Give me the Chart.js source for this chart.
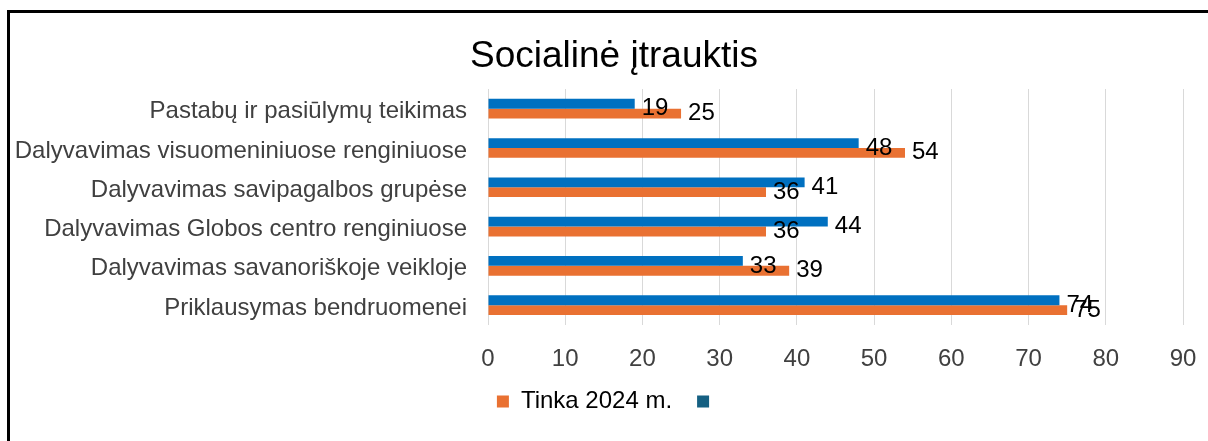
<!DOCTYPE html>
<html>
<head>
<meta charset="utf-8">
<script src="https://cdn.jsdelivr.net/npm/chart.js@4/dist/chart.umd.min.js"></script>
<style>
    body { margin: 0; background: #fff; }
    #wrap { position: relative; width: 1208px; height: 441px; overflow: hidden; }
    #frame { position: absolute; left: 7px; top: 10px; width: 1300px; height: 500px; border-left: 3px solid #000; border-top: 3px solid #000; }
    #c { position: absolute; left: 0; top: 0; }
</style>
</head>
<body>
<div id="wrap">
    <canvas id="c" width="1208" height="441"></canvas>
    <div id="frame"></div>
</div>
<script>

let categories = [
    "Pastabų ir pasiūlymų teikimas",
    "Dalyvavimas visuomeniniuose renginiuose",
    "Dalyvavimas savipagalbos grupėse",
    "Dalyvavimas Globos centro renginiuose",
    "Dalyvavimas savanoriškoje veikloje",
    "Priklausymas bendruomenei"
]
let blueValues = [19, 48, 41, 44, 33, 74]
let orangeValues = [25, 54, 36, 36, 39, 75]
let seriesNames = ["", "Tinka 2024 m."]
let xTicks = [0, 10, 20, 30, 40, 50, 60, 70, 80, 90]

let fontName = "'Liberation Sans', Arial, sans-serif"

// value labels next to the bar ends
let valueLabels = {
    id: 'valueLabels',
    afterDatasetsDraw: function (chart) {
        let ctx = chart.ctx
        ctx.save()
        ctx.font = "24px " + fontName
        ctx.fillStyle = "#000"
        ctx.textAlign = "left"
        ctx.textBaseline = "middle"
        chart.data.datasets.forEach(function (ds, i) {
            let meta = chart.getDatasetMeta(i)
            let shift = i == 0 ? 5 : 0
            meta.data.forEach(function (bar, j) {
                ctx.fillText(ds.data[j], bar.x + 7, bar.y + shift)
            })
        })
        ctx.restore()
    }
}

// nudge title and legend a bit, like in the original sheet
let nudge = {
    id: 'nudge',
    afterLayout: function (chart) {
        chart.titleBlock.left += 17.5
        chart.titleBlock.right += 17.5
        chart.legend.left += 12.5
        chart.legend.right += 12.5
        chart.legend.top -= 10.4
        chart.legend.bottom -= 10.4
    }
}

let chart = new Chart(document.getElementById('c').getContext('2d'), {
    type: 'bar',
    data: {
        labels: categories,
        datasets: [{
            label: seriesNames[0],
            data: blueValues,
            backgroundColor: '#0070C0',
            barPercentage: 1,
            categoryPercentage: 0.5
        }, {
            label: seriesNames[1],
            data: orangeValues,
            backgroundColor: '#E97132',
            barPercentage: 1,
            categoryPercentage: 0.5
        }]
    },
    options: {
        indexAxis: 'y',
        responsive: false,
        animation: false,
        layout: { padding: { top: 10, right: 25, bottom: 7.2, left: 10 } },
        scales: {
            x: {
                min: 0,
                max: 90,
                afterBuildTicks: function (axis) {
                    axis.ticks = xTicks.map(function (v) { return { value: v } })
                },
                grid: { color: '#D9D9D9', lineWidth: 1, drawTicks: true, tickLength: 12, tickColor: 'rgba(0,0,0,0)' },
                border: { display: false },
                ticks: { color: '#404040', font: { family: fontName, size: 24 }, padding: 8 },
                afterFit: function (axis) { axis.height = 50 }
            },
            y: {
                grid: { display: false, drawTicks: false },
                border: { display: false },
                ticks: { color: '#404040', font: { family: fontName, size: 24 }, padding: 21, labelOffset: 3 },
                afterFit: function (axis) { axis.width = 478 }
            }
        },
        plugins: {
            title: {
                display: true,
                text: 'Socialinė įtrauktis',
                color: '#000',
                font: { family: fontName, size: 37, weight: 'normal' },
                padding: { top: 24.8, bottom: 9.8 }
            },
            legend: {
                position: 'bottom',
                reverse: true,
                labels: {
                    color: '#000',
                    font: { family: fontName, size: 24 },
                    boxWidth: 12,
                    boxHeight: 12,
                    padding: 25,
                    generateLabels: function (chart) {
                        let items = Chart.defaults.plugins.legend.labels.generateLabels(chart)
                        items.forEach(function (it) {
                            if (it.datasetIndex == 0) { it.fillStyle = '#156082' }
                            it.lineWidth = 0
                        })
                        return items
                    }
                }
            },
            tooltip: { enabled: false }
        }
    },
    plugins: [valueLabels, nudge]
})
</script>
</body>
</html>
